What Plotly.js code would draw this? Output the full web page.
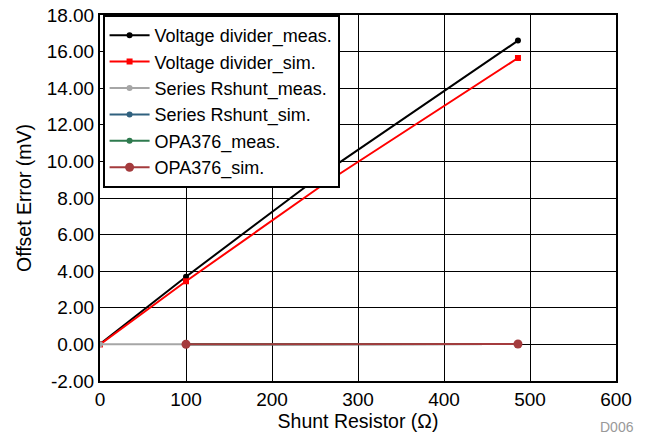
<!DOCTYPE html>
<html><head><meta charset="utf-8">
<script src="https://cdn.plot.ly/plotly-3.0.1.min.js"></script>
<style>body{margin:0;background:#fff}#c{width:647px;height:442px}</style>
</head><body><div id="c"></div>
<script>
const xVD = [0, 100, 260, 486];
const vdMeas = [0.02, 3.7, 9.35, 16.6];
const vdSim = [0.0, 3.45, 8.75, 15.65];
const xSeriesMeas = [0, 100, 486];
const seriesMeas = [0.01, 0.01, 0.02];
const xSeriesSim = [100, 486];
const seriesSim = [0.01, 0.02];
const xOpa = [100, 486];
const opaMeas = [0.01, 0.02];
const opaSim = [0.01, 0.02];
const names = ["Voltage divider_meas.", "Voltage divider_sim.", "Series Rshunt_meas.", "Series Rshunt_sim.", "OPA376_meas.", "OPA376_sim."];
const colors = ["#000000", "#ff0000", "#a6a6a6", "#30617f", "#2e7a4e", "#a43b3d"];
const xs = [xVD, xVD, xSeriesMeas, xSeriesSim, xOpa, xOpa];
const ys = [vdMeas, vdSim, seriesMeas, seriesSim, opaMeas, opaSim];
const yTicks = [-2, 0, 2, 4, 6, 8, 10, 12, 14, 16, 18];
const yTickText = yTicks.map(v => v.toFixed(2));
const traces = names.map((n, i) => ({
  x: xs[i], y: ys[i], name: n, type: 'scatter', mode: 'lines+markers',
  line: {color: colors[i], width: 2},
  marker: {color: colors[i], size: i === 5 ? 9 : 6, symbol: i === 1 ? 'square' : 'circle'}
}));
const fam = 'Liberation Sans, Arial, sans-serif';
const tickFont = {family: fam, size: 19, color: '#000'};
const titleFont = {family: fam, size: 19.5, color: '#000'};
Plotly.newPlot('c', traces, {
  width: 647, height: 442,
  margin: {l: 100, r: 31, t: 15, b: 61},
  paper_bgcolor: '#fff', plot_bgcolor: '#fff',
  font: tickFont,
  showlegend: true,
  legend: {x: 0.005, y: 1, xanchor: 'left', yanchor: 'top', bgcolor: '#fff', bordercolor: '#000', borderwidth: 2,
    font: {family: fam, size: 18, color: '#000'}, tracegroupgap: 0, itemwidth: 40},
  xaxis: {range: [0, 600], tickvals: [0,100,200,300,400,500,600], showgrid: true, gridcolor: '#000', gridwidth: 1,
    showline: true, linecolor: '#000', linewidth: 2, mirror: true, zeroline: false, ticks: '', tickfont: tickFont,
    title: {text: 'Shunt Resistor (Ω)', font: titleFont, standoff: 2}},
  yaxis: {range: [-2, 18], tickvals: yTicks, ticktext: yTickText, showgrid: true, gridcolor: '#000', gridwidth: 1,
    showline: true, linecolor: '#000', linewidth: 2, mirror: true, zeroline: false, ticks: '', tickfont: tickFont,
    title: {text: 'Offset Error (mV)', font: titleFont, standoff: 10}},
  annotations: [{text: 'D006', xref: 'paper', yref: 'paper', x: 1.039, y: -0.153, xanchor: 'right', yanchor: 'bottom',
    showarrow: false, font: {family: fam, size: 14, color: '#999'}}]
}, {displayModeBar: false, staticPlot: true});
</script></body></html>
